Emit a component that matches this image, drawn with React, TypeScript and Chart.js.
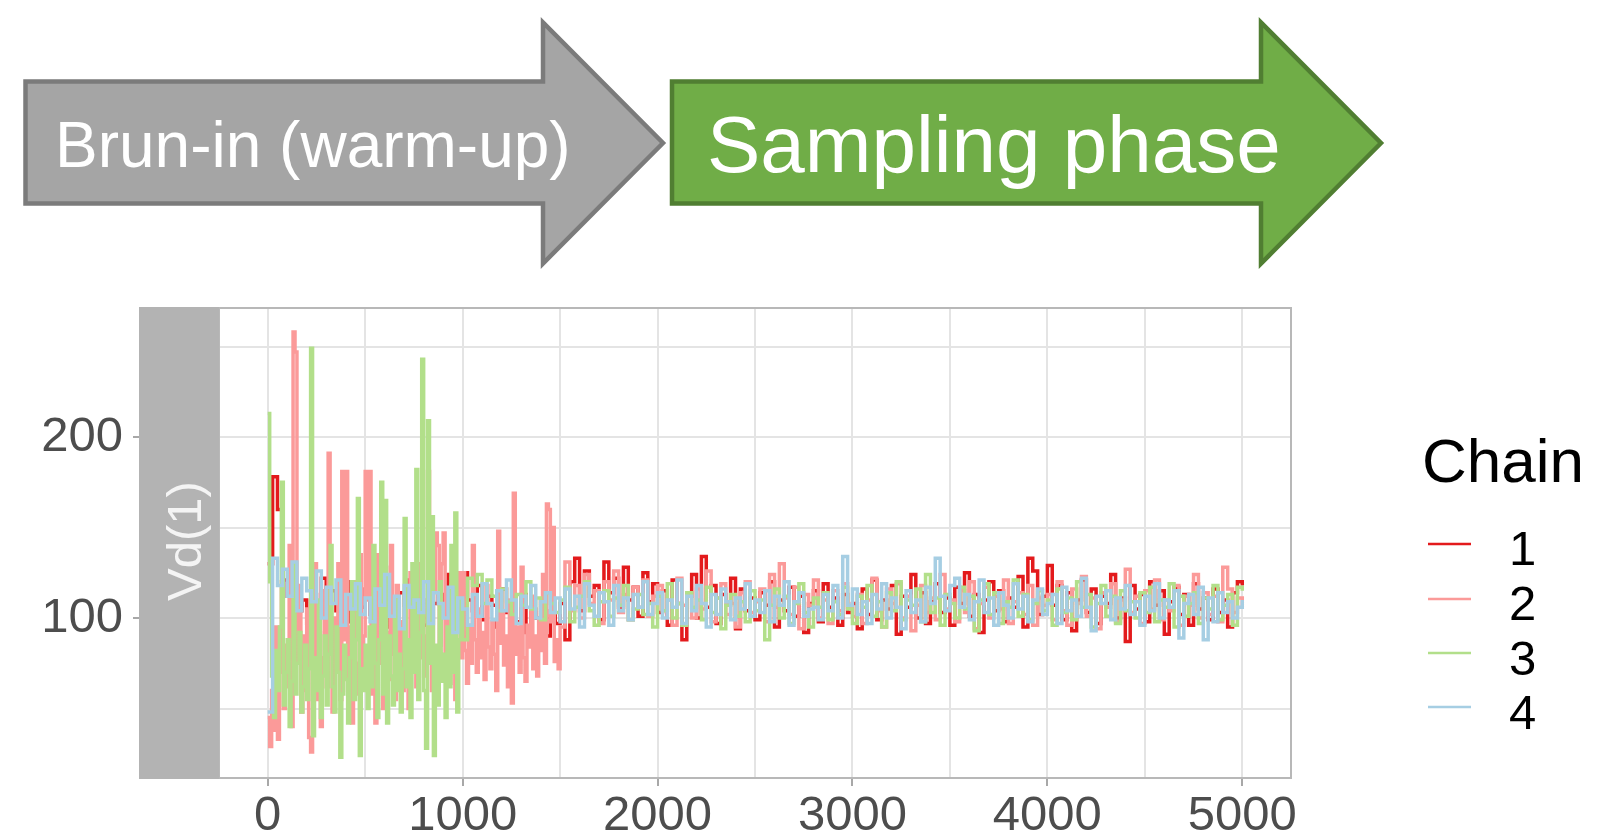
import React, { useEffect, useRef } from 'react';
import { Chart, registerables } from 'chart.js';

Chart.register(...registerables);

// Chains 1 and 4: one value every 25 iterations, 0..5000
const iterStep = 25;
// Chains 2 and 3: finer sampling (every 10 iterations) during their warm-up, then every 25
const burnInStep = 10;
const chain2MainStart = 1500;
const chain3MainStart = 1000;

const chainNames = ['1', '2', '3', '4'];
const chainColors = ['#E31A1C', '#FB9A99', '#B2DF8A', '#A6CEE3'];

const chain1 = [
  130, 178, 160, 121, 112, 118, 104, 110, 97, 113, 108, 122, 100, 115, 104, 110, 120, 98, 112, 106,
  116, 102, 109, 118, 95, 111, 99, 114, 107, 121, 103, 110, 96, 117, 108, 113, 101, 124, 106, 112,
  125, 110, 104, 118, 99, 112, 107, 95, 116, 103, 109, 98, 113, 92, 105, 100, 110, 90, 104, 97,
  108, 88, 120, 133, 104, 126, 112, 118, 99, 131, 114, 122, 106, 128, 110, 117, 101, 125, 109, 119,
  103, 115, 96, 121, 108, 88, 112, 124, 100, 134, 106, 118, 97, 113, 109, 122, 94, 116, 104, 111,
  99, 114, 107, 120, 95, 110, 104, 117, 101, 112, 92, 108, 115, 98, 119, 106, 111, 96, 113, 103,
  108, 94, 116, 102, 121, 99, 110, 105, 118, 91, 112, 106, 124, 100, 114, 97, 109, 119, 103, 111,
  96, 117, 108, 125, 101, 113, 92, 110, 120, 104, 115, 98, 111, 106, 123, 95, 133, 126, 102, 112,
  129, 107, 118, 99, 114, 93, 110, 121, 103, 116, 97, 112, 108, 124, 100, 111, 87, 118, 105, 113,
  98, 120, 107, 115, 91, 109, 117, 102, 113, 96, 119, 105, 111, 99, 116, 103, 110, 95, 114, 120,
  118,
];

const chain2BurnIn = [
  45, 29, 60, 38, 95, 33, 70, 120, 50, 85,
  62, 140, 40, 258, 247, 75, 118, 48, 90, 60,
  105, 34, 26, 70, 130, 55, 92, 40, 78, 115,
  62, 191, 85, 48, 100, 70, 130, 55, 181, 88,
  181, 60, 95, 42, 120, 75, 58, 135, 68, 90,
  181, 110, 181, 58, 96, 42, 135, 75, 110, 50,
  128, 92, 66, 140, 80, 55, 118, 72, 98, 60,
  112, 85, 50, 125, 70, 95, 62, 130, 78, 104,
  68, 90, 181, 80, 60, 115, 147, 140, 85, 130,
  147, 72, 100, 64, 118, 88, 55, 95, 125, 78,
  125, 82, 64, 96, 75, 140, 88, 70, 105, 78,
  92, 66, 118, 84, 72, 98, 80, 60, 148, 86,
  104, 74, 90, 62, 110, 53, 169, 80, 95, 70,
  128, 78, 65, 96, 84, 112, 72, 90, 68, 100,
  82, 124, 75, 163, 160, 98, 150, 76, 88, 72,
];

const chain2Main = [
  95, 131, 104, 118, 100, 124, 108, 115, 97, 120, 110, 126, 103, 113, 99, 117, 106, 121, 101, 112,
  118, 104, 110, 96, 122, 107, 113, 100, 116, 105, 126, 98, 111, 119, 102, 108, 95, 114, 120, 103,
  109, 116, 98, 124, 106, 130, 111, 102, 117, 94, 113, 107, 121, 100, 110, 97, 115, 104, 119, 106,
  101, 113, 97, 110, 122, 104, 95, 116, 108, 119, 100, 112, 93, 107, 118, 103, 111, 99, 124, 105,
  110, 98, 115, 103, 120, 94, 108, 117, 100, 112, 105, 121, 97, 109, 114, 102, 118, 96, 111, 107,
  113, 99, 120, 104, 96, 116, 108, 123, 101, 111, 94, 114, 106, 119, 98, 110, 127, 103, 112, 97,
  115, 105, 121, 99, 110, 104, 118, 96, 112, 107, 124, 100, 114, 102, 112, 98, 128, 116, 103, 111,
  106,
];

const chain3BurnIn = [
  213, 120, 68, 45, 82, 60, 95, 175, 52, 70,
  88, 40, 65, 130, 58, 75, 92, 48, 62, 85,
  55, 72, 249, 35, 78, 60, 110, 45, 68, 90,
  52, 80, 140, 62, 48, 95, 70, 23, 58, 85,
  66, 42, 78, 120, 55, 88, 166, 24, 72, 60,
  85, 50, 95, 62, 140, 75, 45, 88, 175, 58,
  165, 42, 90, 68, 52, 110, 60, 80, 48, 72,
  155, 62, 88, 45, 130, 70, 182, 55, 92, 243,
  60, 28, 209, 75, 156, 24, 85, 52, 120, 65,
  80, 45, 95, 62, 140, 70, 158, 48, 88, 110,
];

const chain3Main = [
  88, 122, 118, 124, 108, 121, 112, 104, 116, 109, 102, 113, 107, 120, 105, 111, 99, 114, 108, 103,
  110, 117, 98, 106, 112, 120, 104, 96, 109, 115, 101, 111, 107, 118, 99, 105, 113, 102, 108, 95,
  112, 104, 119, 100, 108, 96, 114, 106, 110, 99, 117, 103, 111, 94, 107, 113, 101, 109, 98, 115,
  104, 110, 88, 107, 116, 100, 112, 97, 108, 119, 103, 95, 111, 106, 114, 99, 109, 102, 117, 105,
  97, 112, 106, 118, 101, 109, 95, 114, 104, 120, 99, 110, 107, 116, 98, 124, 103, 111, 96, 113,
  108, 100, 117, 105, 112, 93, 110, 119, 102, 114, 97, 109, 106, 121, 101, 113, 99, 108, 115, 104,
  110, 96, 116, 103, 111, 99, 120, 106, 113, 95, 108, 118, 101, 112, 97, 115, 104, 109, 100, 114,
  103, 117, 98, 110, 106, 119, 95, 112, 101, 108, 114, 97, 111, 105, 118, 99, 107, 113, 96, 117,
  115,
];

const chain4 = [
  48, 133, 118, 127, 112, 131, 104, 122, 115, 109, 126, 100, 117, 108, 121, 96, 113, 105, 119, 102,
  111, 98, 116, 107, 124, 101, 112, 94, 118, 106, 110, 103, 120, 97, 114, 108, 100, 117, 92, 111,
  105, 96, 113, 101, 119, 108, 99, 115, 104, 121, 110, 97, 112, 106, 118, 100, 109, 114, 103, 111,
  98, 116, 105, 112, 95, 119, 107, 101, 114, 109, 96, 118, 104, 111, 99, 113, 106, 120, 102, 108,
  114, 100, 110, 106, 121, 97, 112, 104, 118, 108, 95, 113, 102, 116, 109, 99, 111, 105, 119, 101,
  110, 103, 115, 98, 112, 107, 120, 96, 109, 114, 101, 105, 106, 99, 113, 104, 118, 100, 134, 107,
  116, 102, 109, 97, 113, 105, 119, 100, 111, 106, 94, 115, 103, 110, 98, 117, 108, 133, 112, 104,
  118, 122, 106, 113, 99, 109, 121, 103, 111, 96, 114, 107, 100, 119, 105, 112, 98, 110, 116, 102,
  108, 113, 97, 117, 104, 110, 101, 122, 106, 93, 112, 108, 115, 99, 111, 105, 118, 102, 109, 96,
  112, 104, 119, 100, 110, 106, 115, 89, 108, 113, 102, 117, 88, 111, 98, 114, 103, 109, 100, 106,
  110,
];

const xMajorTicks = [0, 1000, 2000, 3000, 4000, 5000];
const xMinorTicks = [500, 1500, 2500, 3500, 4500];
const yMajorTicks = [100, 200];
const yMinorTicks = [50, 150, 250];

const stripLabel = 'Vd(1)';
const legendTitle = 'Chain';
const burnInLabel = 'Brun-in (warm-up)';
const samplingLabel = 'Sampling phase';

const FONT = '"Liberation Sans", Arial, Helvetica, sans-serif';

type Pt = { x: number; y: number };

const uniform = (vals: number[]): Pt[] => vals.map((y, i) => ({ x: i * iterStep, y }));
const split = (burn: number[], main: number[], start: number): Pt[] => [
  ...burn.map((y, i) => ({ x: i * burnInStep, y })),
  ...main.map((y, i) => ({ x: start + i * iterStep, y })),
];

export default function App() {
  const canvasRef = useRef<HTMLCanvasElement>(null);

  useEffect(() => {
    const series: Pt[][] = [
      uniform(chain1),
      split(chain2BurnIn, chain2Main, chain2MainStart),
      split(chain3BurnIn, chain3Main, chain3MainStart),
      uniform(chain4),
    ];

    const stripPlugin = {
      id: 'facetStrip',
      afterDraw(chart: any) {
        const { ctx, chartArea: a } = chart;
        ctx.save();
        ctx.strokeStyle = '#B8B8B8';
        ctx.lineWidth = 2;
        ctx.strokeRect(a.left, a.top, a.right - a.left, a.bottom - a.top);
        ctx.fillStyle = '#B3B3B3';
        ctx.fillRect(a.left - 80, a.top - 1, 80, a.bottom - a.top + 2);
        ctx.translate(a.left - 18, (a.top + a.bottom) / 2 - 2);
        ctx.rotate(-Math.PI / 2);
        ctx.fillStyle = '#F4F4F4';
        ctx.font = `49px ${FONT}`;
        ctx.textAlign = 'center';
        ctx.textBaseline = 'alphabetic';
        ctx.fillText(stripLabel, 0, 0);
        ctx.restore();
      },
    };

    const xTicks = [...xMajorTicks, ...xMinorTicks].sort((a, b) => a - b);
    const yTicks = [...yMajorTicks, ...yMinorTicks].sort((a, b) => a - b);

    const chart = new Chart(canvasRef.current as HTMLCanvasElement, {
      type: 'line',
      data: {
        datasets: series.map((pts, k) => ({
          label: chainNames[k],
          data: pts,
          borderColor: chainColors[k],
          backgroundColor: chainColors[k],
          borderWidth: 3.5,
          pointRadius: 0,
          stepped: true,
          fill: false,
          order: 4 - k,
        })),
      },
      options: {
        responsive: false,
        animation: false,
        events: [],
        layout: { padding: { left: 0, right: 309, top: 308, bottom: 0 } },
        plugins: { legend: { display: false }, tooltip: { enabled: false } },
        scales: {
          x: {
            type: 'linear',
            min: -250,
            max: 5250,
            afterBuildTicks: (ax: any) => {
              ax.ticks = xTicks.map((v) => ({ value: v }));
            },
            afterFit: (ax: any) => {
              ax.height = 60;
            },
            border: { display: false },
            grid: {
              color: '#E4E4E4',
              lineWidth: 2,
              tickLength: 8,
              tickWidth: 2,
              tickColor: (c: any) =>
                c.tick && xMajorTicks.includes(c.tick.value) ? '#A8A8A8' : 'rgba(0,0,0,0)',
            },
            ticks: {
              autoSkip: false,
              maxRotation: 0,
              minRotation: 0,
              padding: 1,
              color: '#4D4D4D',
              font: { size: 49, family: FONT },
              callback: (v: any) => (xMajorTicks.includes(Number(v)) ? String(v) : ''),
            },
          },
          y: {
            type: 'linear',
            min: 11.6,
            max: 271.3,
            afterBuildTicks: (ax: any) => {
              ax.ticks = yTicks.map((v) => ({ value: v }));
            },
            afterFit: (ax: any) => {
              ax.width = 219;
            },
            border: { display: false },
            grid: {
              color: '#E4E4E4',
              lineWidth: 2,
              tickLength: 86,
              tickWidth: 2,
              tickColor: (c: any) =>
                c.tick && yMajorTicks.includes(c.tick.value) ? '#A8A8A8' : 'rgba(0,0,0,0)',
            },
            ticks: {
              autoSkip: false,
              padding: 10,
              color: '#4D4D4D',
              font: { size: 49, family: FONT },
              callback: (v: any) => (yMajorTicks.includes(Number(v)) ? String(v) : ''),
            },
          },
        },
      },
      plugins: [stripPlugin],
    } as any);

    return () => chart.destroy();
  }, []);

  const legendLineY = [544, 599, 653, 707];
  const legendTextY = [565, 620, 675, 729];

  return (
    <div style={{ position: 'absolute', left: 0, top: 0, width: 1600, height: 838, background: '#fff' }}>
      <canvas ref={canvasRef} width={1600} height={838} style={{ position: 'absolute', left: 0, top: 0 }} />
      <svg
        width={1600}
        height={838}
        style={{ position: 'absolute', left: 0, top: 0, pointerEvents: 'none' }}
        fontFamily={FONT}
      >
        <path
          d="M25.5 81.5 H543 V22.5 L663 143 L543 263.5 V203.5 H25.5 Z"
          fill="#A5A5A5"
          stroke="#7B7B7B"
          strokeWidth={4.5}
        />
        <path
          d="M672 81.5 H1261 V22.5 L1381 143 L1261 263.5 V203.5 H672 Z"
          fill="#70AD47"
          stroke="#507E32"
          strokeWidth={4.5}
        />
        <text x={55} y={167} fontSize={64} fill="#FFFFFF">
          {burnInLabel}
        </text>
        <text x={707} y={172} fontSize={80} fill="#FFFFFF">
          {samplingLabel}
        </text>
        <text x={1422} y={482} fontSize={62} fill="#000000">
          {legendTitle}
        </text>
        {chainNames.map((name, k) => (
          <g key={name}>
            <line x1={1428} x2={1471} y1={legendLineY[k]} y2={legendLineY[k]} stroke={chainColors[k]} strokeWidth={2.5} />
            <text x={1509} y={legendTextY[k]} fontSize={49} fill="#000000">
              {name}
            </text>
          </g>
        ))}
      </svg>
    </div>
  );
}
